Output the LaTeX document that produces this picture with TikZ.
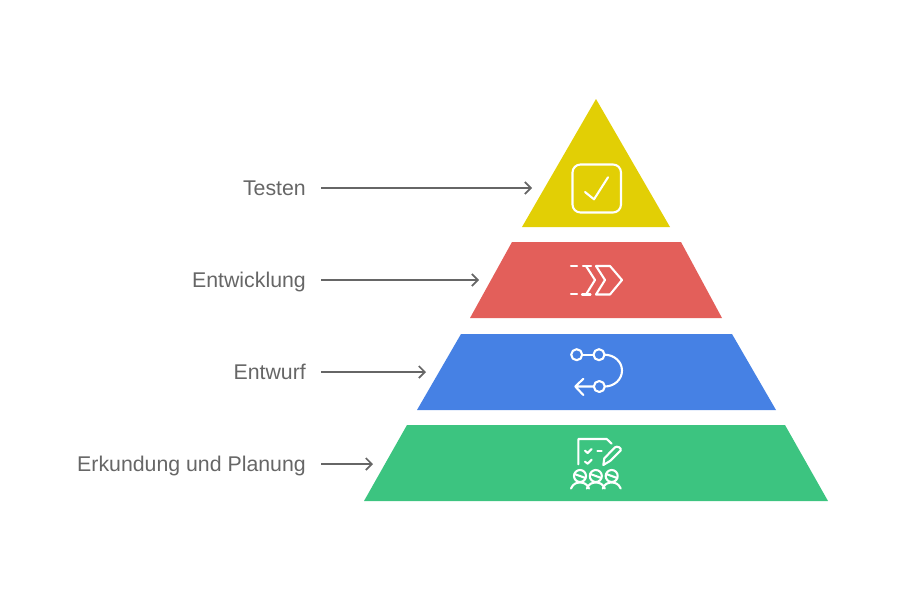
\documentclass[tikz,border=0pt]{standalone}
\usepackage{fontspec}
\setmainfont{Liberation Sans}
\usepackage{xcolor}
\usetikzlibrary{arrows.meta, calc}
\definecolor{cTest}{HTML}{E2CF05}
\definecolor{cDev}{HTML}{E35F5A}
\definecolor{cPlan}{HTML}{4681E4}
\definecolor{cGreen}{HTML}{3CC480}
\definecolor{cInk}{HTML}{666666}
\tikzset{
  lab/.style={anchor=east, font=\fontsize{21.3}{24}\selectfont, text=cInk, inner sep=0pt,
    text height=14pt, text depth=0pt},
  flow/.style={-{Straight Barb[length=6pt,width=12pt]}, draw=cInk, line width=1.7pt},
  icon/.style={draw=white, line width=2.1pt, line cap=round, line join=round},
}
\begin{document}
\begin{tikzpicture}[x=1pt,y=-1pt]
\useasboundingbox (0,0) rectangle (900,600);
% layers
\fill[cTest] (596,99) -- (670,227) -- (522,227) -- cycle;
\fill[cDev] (512,242) -- (681,242) -- (722,318) -- (470,318) -- cycle;
\fill[cPlan] (461,334) -- (732,334) -- (776,410) -- (417,410) -- cycle;
\fill[cGreen] (407,425) -- (785,425) -- (828,501) -- (364,501) -- cycle;

\node[lab] (l1) at (306,188) {Testen};
\node[lab] (l2) at (306,280) {Entwicklung};
\node[lab] (l3) at (306,372) {Entwurf};
\node[lab] (l4) at (306,464) {Erkundung und Planung};
\coordinate (t1) at (532,188);
\coordinate (t2) at (479,280);
\coordinate (t3) at (426,372);
\coordinate (t4) at (373,464);
\foreach \a/\b in {l1/t1,l2/t2,l3/t3,l4/t4}
  \draw[flow] ($(\a.east)+(15,0)$) -- (\b);

% check box
\draw[icon, rounded corners=8pt] (572.5,164.5) rectangle (621,212.5);
\draw[icon] (585,192) -- (594,199.3) -- (608,177.3);

% chevrons
\draw[icon] (571,266) -- (577,266) (571,294) -- (577,294);
\draw[icon] (583,266) -- (591,266) (582,294.5) -- (590.5,294.5);
\draw[icon] (586,266) -- (595,280) -- (586,294.5);
\draw[icon] (596,266) -- (610,266) -- (622,280) -- (610,294.5) -- (596,294.5) -- (605,280) -- cycle;

% route
\draw[icon] (576.7,354.7) circle (5.5) (599,354.7) circle (5.5) (599.3,386.5) circle (5.5);
\draw[icon] (582.2,354.7) -- (593.5,354.7);
\draw[icon] (604.5,354.7) .. controls (614,354.7) and (622,361.5) .. (622,370.6)
  .. controls (622,379.7) and (614,386.5) .. (604.8,386.5);
\draw[icon] (593.8,386.5) -- (575.3,386.5) (583.3,378.8) -- (575.3,386.5) -- (583.3,395);

% plan and team
\draw[icon] (578.3,464.3) -- (578.3,439) -- (606.7,439) -- (611.7,443.7);
\draw[icon] (585,450.7) -- (587.7,453) -- (591.7,449);
\draw[icon] (585,461.7) -- (587.7,463.7) -- (591.7,459.7);
\draw[icon] (597.3,451) -- (601.7,451);
\draw[icon] (604.3,458.3) -- (615,447.3) .. controls (617,445.5) and (622,448) .. (620.7,450.5)
  -- (610,461) -- (603.3,465) -- cycle;
\foreach \x in {580,595.8,611.7}{
  \draw[icon] (\x,476) circle (6);
  \draw[icon] (\x-5.5,474) -- (\x+5.5,478);
  \draw[icon] (\x-9,488.5) .. controls (\x-7,484) and (\x-4,482.5) .. (\x,482.5)
    .. controls (\x+4,482.5) and (\x+7,484) .. (\x+9,488.5);
}
\end{tikzpicture}
\end{document}
